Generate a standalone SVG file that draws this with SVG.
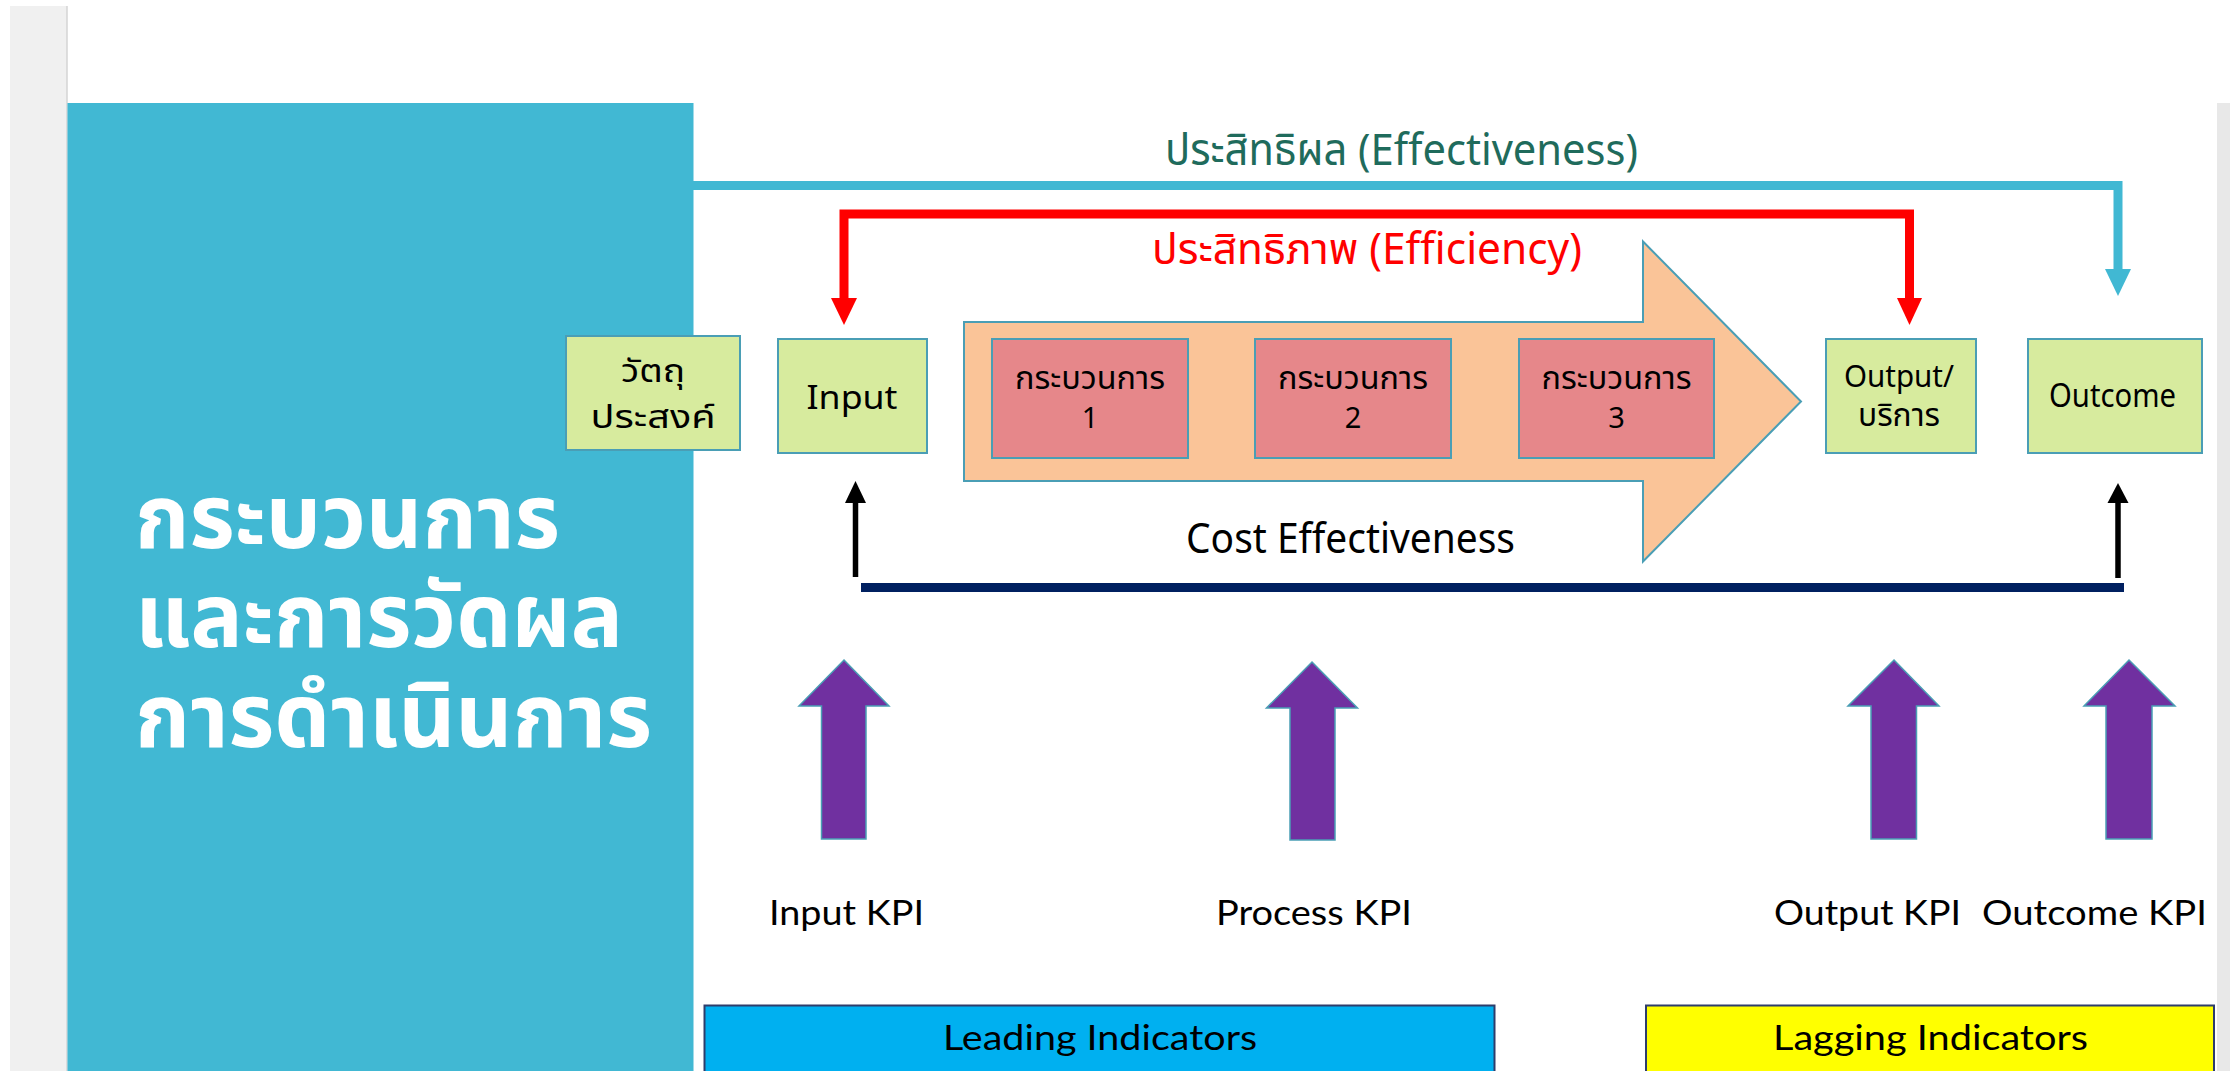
<svg xmlns="http://www.w3.org/2000/svg" width="2230" height="1071" viewBox="0 0 2230 1071">
<defs>
<style>
.t{font-family:"Noto Sans","Noto Sans Thai","DejaVu Sans",sans-serif;}
.ttl{font-family:"Liberation Sans","Noto Sans Thai","Noto Sans",sans-serif;}
.k{font-family:Lato,"Open Sans","Noto Sans",sans-serif;font-size:35px;fill:#000;}
.gbox{fill:#D7EB9E;stroke:#4A9EB5;stroke-width:2;}
.pbox{fill:#E6878A;stroke:#4A9EB5;stroke-width:2;}
.lbl{font-size:32px;fill:#000;text-anchor:middle;}
.kpi{fill:#7030A0;stroke:#4A9EB5;stroke-width:1.5;}
</style>
</defs>
<rect x="0" y="0" width="2230" height="1071" fill="#FFFFFF"/>
<rect x="10" y="6" width="57" height="1065" fill="#F0F0F0"/>
<line x1="67" y1="6" x2="67" y2="1071" stroke="#D4D4D4" stroke-width="1.5"/>
<rect x="2217" y="103" width="13" height="968" fill="#E8E8E8"/>

<g id="title-panel">
<rect x="67.5" y="103" width="626" height="968" fill="#41B8D3"/>
<text class="ttl" font-size="88" font-weight="bold" fill="#FFFFFF"><tspan x="135" y="548" textLength="425" lengthAdjust="spacingAndGlyphs">กระบวนการ</tspan><tspan x="135" y="647" textLength="488" lengthAdjust="spacingAndGlyphs">และการวัดผล</tspan><tspan x="135" y="747" textLength="517" lengthAdjust="spacingAndGlyphs">การดำเนินการ</tspan></text>
</g>

<g id="process-arrow">
<polygon points="964,322 1643,322 1643,241.5 1801,401.5 1643,561.5 1643,481 964,481" fill="#FAC498" stroke="#4A9EB5" stroke-width="2"/>
</g>

<g id="connectors">
<polyline points="693,185.5 2118,185.5 2118,272" fill="none" stroke="#41B8D3" stroke-width="9"/>
<polygon points="2105,269 2131,269 2118,296" fill="#41B8D3"/>
<polyline points="844,300 844,214 1909.5,214 1909.5,300" fill="none" stroke="#FF0000" stroke-width="9"/>
<polygon points="831,298 857,298 844,325" fill="#FF0000"/>
<polygon points="1897,298 1922,298 1909.5,325" fill="#FF0000"/>
<line x1="855.5" y1="577" x2="855.5" y2="500" stroke="#000" stroke-width="5.5"/>
<polygon points="845,503 866,503 855.5,481" fill="#000"/>
<line x1="2118" y1="578" x2="2118" y2="500" stroke="#000" stroke-width="5.5"/>
<polygon points="2107.5,503 2128.5,503 2118,483" fill="#000"/>
<line x1="861" y1="587.5" x2="2124" y2="587.5" stroke="#002060" stroke-width="9"/>
<polygon class="kpi" points="844,660 889,706 866,706 866,839 821.5,839 821.5,706 799,706"/>
<polygon class="kpi" points="1312,662 1357.5,708 1335,708 1335,840 1290,840 1290,708 1266.5,708"/>
<polygon class="kpi" points="1894,660 1939,706 1916.5,706 1916.5,839 1871,839 1871,706 1848,706"/>
<polygon class="kpi" points="2129,660 2175,706 2152,706 2152,839 2106,839 2106,706 2084,706"/>
</g>

<g id="label-effectiveness">
<text class="t" x="1165" y="165" font-size="44" fill="#1F6B5C" textLength="473" lengthAdjust="spacingAndGlyphs">ประสิทธิผล (Effectiveness)</text>
</g>
<g id="label-efficiency">
<text class="t" x="1152" y="264" font-size="43" fill="#FF0000" textLength="430" lengthAdjust="spacingAndGlyphs">ประสิทธิภาพ (Efficiency)</text>
</g>
<g id="label-cost">
<text class="t" x="1186" y="553" font-size="42" fill="#000" textLength="329" lengthAdjust="spacingAndGlyphs">Cost Effectiveness</text>
</g>

<g id="node-objective">
<rect class="gbox" x="566" y="336" width="174" height="114"/>
<text class="t lbl" font-size="34"><tspan x="653" y="382" textLength="64" lengthAdjust="spacingAndGlyphs">วัตถุ</tspan><tspan x="653" y="428" textLength="125" lengthAdjust="spacingAndGlyphs">ประสงค์</tspan></text>
</g>
<g id="node-input">
<rect class="gbox" x="778" y="339" width="149" height="114"/>
<text class="t lbl" x="852" y="409" font-size="40" textLength="91" lengthAdjust="spacingAndGlyphs">Input</text>
</g>
<g id="node-process1">
<rect class="pbox" x="992" y="339" width="196" height="119"/>
<text class="t lbl"><tspan x="1090" y="389" textLength="150" lengthAdjust="spacingAndGlyphs">กระบวนการ</tspan><tspan x="1090" y="428" font-size="29">1</tspan></text>
</g>
<g id="node-process2">
<rect class="pbox" x="1255" y="339" width="196" height="119"/>
<text class="t lbl"><tspan x="1353" y="389" textLength="150" lengthAdjust="spacingAndGlyphs">กระบวนการ</tspan><tspan x="1353" y="428" font-size="29">2</tspan></text>
</g>
<g id="node-process3">
<rect class="pbox" x="1519" y="339" width="195" height="119"/>
<text class="t lbl"><tspan x="1616.5" y="389" textLength="150" lengthAdjust="spacingAndGlyphs">กระบวนการ</tspan><tspan x="1616.5" y="428" font-size="29">3</tspan></text>
</g>
<g id="node-output">
<rect class="gbox" x="1826" y="339" width="150" height="114"/>
<text class="t lbl"><tspan x="1899" y="387" font-size="30" textLength="110" lengthAdjust="spacingAndGlyphs">Output/</tspan><tspan x="1899" y="426" textLength="82" lengthAdjust="spacingAndGlyphs">บริการ</tspan></text>
</g>
<g id="node-outcome">
<rect class="gbox" x="2028" y="339" width="174" height="114"/>
<text class="t lbl" x="2112.5" y="406.5" font-size="31" textLength="127" lengthAdjust="spacingAndGlyphs">Outcome</text>
</g>

<g id="kpi-labels">
<text class="k" x="769" y="925" textLength="155" lengthAdjust="spacingAndGlyphs">Input KPI</text>
<text class="k" x="1216" y="925" textLength="196" lengthAdjust="spacingAndGlyphs">Process KPI</text>
<text class="k" x="1774" y="925" textLength="187" lengthAdjust="spacingAndGlyphs">Output KPI</text>
<text class="k" x="1982" y="925" textLength="225" lengthAdjust="spacingAndGlyphs">Outcome KPI</text>
</g>

<g id="leading-indicators">
<rect x="704.5" y="1005.5" width="790" height="80" fill="#00B0F0" stroke="#2E3D6B" stroke-width="2"/>
<text class="k" x="943" y="1050" font-size="39" textLength="314" lengthAdjust="spacingAndGlyphs">Leading Indicators</text>
</g>
<g id="lagging-indicators">
<rect x="1646" y="1005.5" width="568" height="80" fill="#FFFF00" stroke="#2E3D6B" stroke-width="2"/>
<text class="k" x="1773" y="1050" font-size="39" textLength="315" lengthAdjust="spacingAndGlyphs">Lagging Indicators</text>
</g>
</svg>
